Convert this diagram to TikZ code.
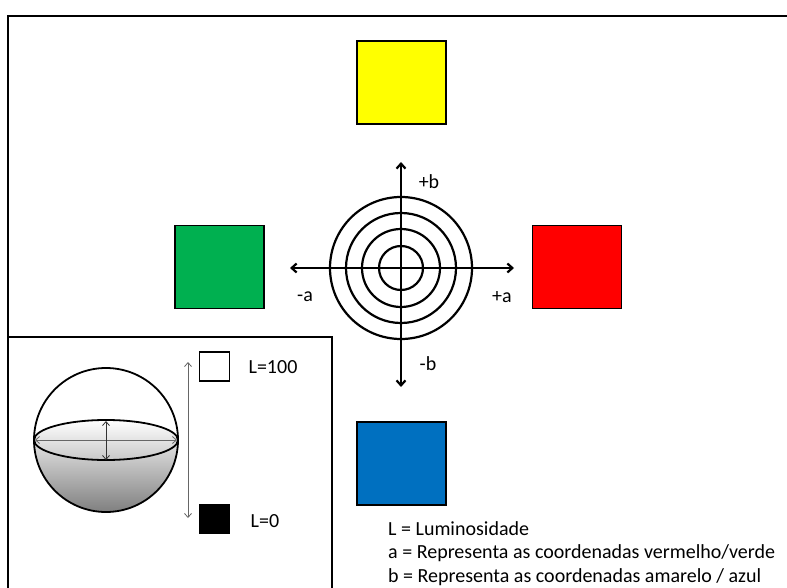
\documentclass[tikz,border=0pt]{standalone}
\usepackage{fontspec}
\setmainfont{Carlito}
\usetikzlibrary{arrows.meta}
\definecolor{cieyellow}{HTML}{FFFF00}
\definecolor{ciegreen}{HTML}{00B050}
\definecolor{ciered}{HTML}{FF0000}
\definecolor{cieblue}{HTML}{0070C0}
\tikzset{
  frame/.style={draw=black, line width=2.4pt},
  swatch/.style={draw=black, line width=1.6pt, minimum width=89pt, minimum height=83pt, inner sep=0pt},
  smallswatch/.style={draw=black, line width=1.4pt, minimum width=30pt, minimum height=29pt, inner sep=0pt},
  axis/.style={line width=2.2pt, {Straight Barb[length=5pt,width=9pt]}-{Straight Barb[length=5pt,width=9pt]}},
  ring/.style={line width=2.2pt},
  thinarrow/.style={draw=black!60, line width=0.8pt, {Straight Barb[length=4pt,width=7pt]}-{Straight Barb[length=4pt,width=7pt]}},
  lbl/.style={font=\fontsize{20}{24}\selectfont, inner sep=0pt},
}
\begin{document}
\begin{tikzpicture}[x=1pt,y=-1pt]
\useasboundingbox (0,0) rectangle (787,588);

% outer frame (open at right and bottom)
\draw[frame] (787,16) -- (8,16) -- (8,588);
% lightness panel
\draw[frame] (9,337) -- (332,337) -- (332,588);

% colour swatches
\node[swatch, fill=cieyellow] (yellow) at (401.5,82.5) {};
\node[swatch, fill=ciegreen]  (green)  at (219.5,267) {};
\node[swatch, fill=ciered]    (red)    at (577,267) {};
\node[swatch, fill=cieblue]   (blue)   at (401.5,463.5) {};

% chroma rings and a/b axes
\coordinate (o) at (401,268);
\foreach \r in {22,39,55,71} \draw[ring] (o) circle[radius=\r];
\coordinate (aminus) at (290,268);
\coordinate (aplus)  at (514,268);
\coordinate (bplus)  at (401,162);
\coordinate (bminus) at (401,387);
\draw[axis] (aminus) -- (aplus);
\draw[axis] (bminus) -- (bplus);

\node[lbl] (pb) at (429,182) {+b};
\node[lbl] (mb) at (428,364) {-b};
\node[lbl] (ma) at (305,297) {-a};
\node[lbl] (pa) at (502,297) {+a};

% sphere
\coordinate (sc) at (106,440);
\shade[top color=white, bottom color=black!50]
  (34,440) arc[start angle=180, end angle=360, x radius=72, y radius=20]
  arc[start angle=0, end angle=180, radius=72] -- cycle;
\draw[line width=1.8pt] (sc) circle[radius=72];
\draw[line width=1.8pt] (sc) ellipse[x radius=72, y radius=20];
\coordinate (eqL) at (35,440);
\coordinate (eqR) at (177,440);
\coordinate (eqT) at (106,421);
\coordinate (eqB) at (106,460);
\draw[thinarrow] (eqL) -- (eqR);
\draw[thinarrow, draw=black!80] (eqT) -- (eqB);

% lightness scale
\coordinate (ltop) at (188,362);
\coordinate (lbot) at (188,518);
\draw[thinarrow] (ltop) -- (lbot);
\node[smallswatch, fill=white] (white) at (214.5,366.5) {};
\node[smallswatch, fill=black] (black) at (214.5,519) {};
\node[lbl] (l100) at (273,367) {L=100};
\node[lbl] (l0)   at (265,521) {L=0};

% legend
\node[lbl, anchor=west] (leg1) at (388,529) {L = Luminosidade};
\node[lbl, anchor=west] (leg2) at (388,553) {a = Representa as coordenadas vermelho/verde};
\node[lbl, anchor=west] (leg3) at (388,577) {b = Representa as coordenadas amarelo / azul};
\end{tikzpicture}
\end{document}
